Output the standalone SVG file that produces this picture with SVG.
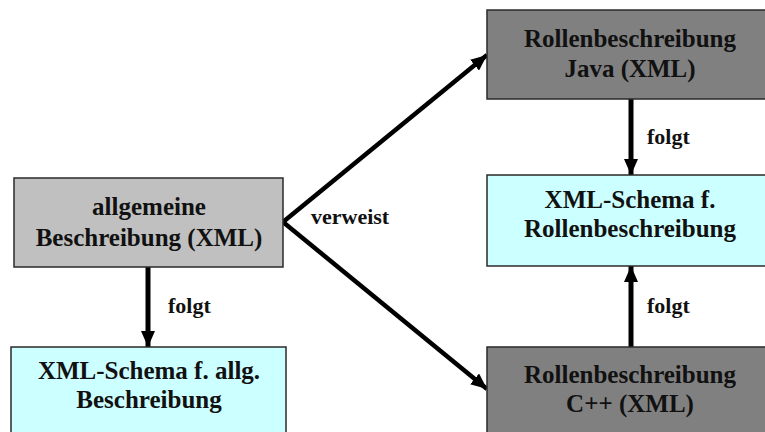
<svg xmlns="http://www.w3.org/2000/svg" width="765" height="432" viewBox="0 0 765 432">
  <style>
    .box { stroke: #2a2a2a; stroke-width: 1.5; }
    .light { fill: #c0c0c0; }
    .dark { fill: #808080; }
    .schema { fill: #ccffff; }
    .label { font-family: "Liberation Serif", "Times New Roman", serif; font-weight: bold; font-size: 25px; fill: #111; text-anchor: middle; }
    .edge-label { font-family: "Liberation Serif", "Times New Roman", serif; font-weight: bold; font-size: 22px; fill: #111; }
    .conn { stroke: #000; fill: none; }
  </style>
  <defs>
    <marker id="head" viewBox="0 0 16 14" refX="16" refY="7" markerWidth="16" markerHeight="14" markerUnits="userSpaceOnUse" orient="auto">
      <path d="M0,0 L16,7 L0,14 Z" fill="#000"/>
    </marker>
  </defs>
  <rect width="765" height="432" fill="#fff"/>

  <g id="connectors">
    <line class="conn" x1="283" y1="222" x2="487" y2="55" stroke-width="4.5" marker-end="url(#head)"/>
    <line class="conn" x1="283" y1="222" x2="487" y2="389" stroke-width="4.5" marker-end="url(#head)"/>
    <line class="conn" x1="148" y1="267" x2="148" y2="347" stroke-width="5" marker-end="url(#head)"/>
    <line class="conn" x1="631" y1="99" x2="631" y2="175" stroke-width="5" marker-end="url(#head)"/>
    <line class="conn" x1="631" y1="347" x2="631" y2="266" stroke-width="5" marker-end="url(#head)"/>
    <text class="edge-label" x="311" y="224">verweist</text>
    <text class="edge-label" x="168" y="313">folgt</text>
    <text class="edge-label" x="647" y="144">folgt</text>
    <text class="edge-label" x="647" y="313">folgt</text>
  </g>

  <g id="allgemeine-beschreibung">
    <rect class="box light" x="14" y="178" width="269" height="89"/>
    <text class="label" x="149" y="215">allgemeine</text>
    <text class="label" x="149" y="246">Beschreibung (XML)</text>
  </g>

  <g id="schema-allg">
    <rect class="box schema" x="11" y="347" width="275" height="100"/>
    <text class="label" x="149" y="379">XML-Schema f. allg.</text>
    <text class="label" x="149" y="408">Beschreibung</text>
  </g>

  <g id="rolle-java">
    <rect class="box dark" x="487" y="10" width="290" height="89"/>
    <text class="label" x="630" y="47">Rollenbeschreibung</text>
    <text class="label" x="630" y="77">Java (XML)</text>
  </g>

  <g id="schema-rolle">
    <rect class="box schema" x="487" y="175" width="290" height="91"/>
    <text class="label" x="630" y="208">XML-Schema f.</text>
    <text class="label" x="630" y="237">Rollenbeschreibung</text>
  </g>

  <g id="rolle-cpp">
    <rect class="box dark" x="487" y="347" width="290" height="100"/>
    <text class="label" x="630" y="383">Rollenbeschreibung</text>
    <text class="label" x="630" y="412">C++ (XML)</text>
  </g>
</svg>
